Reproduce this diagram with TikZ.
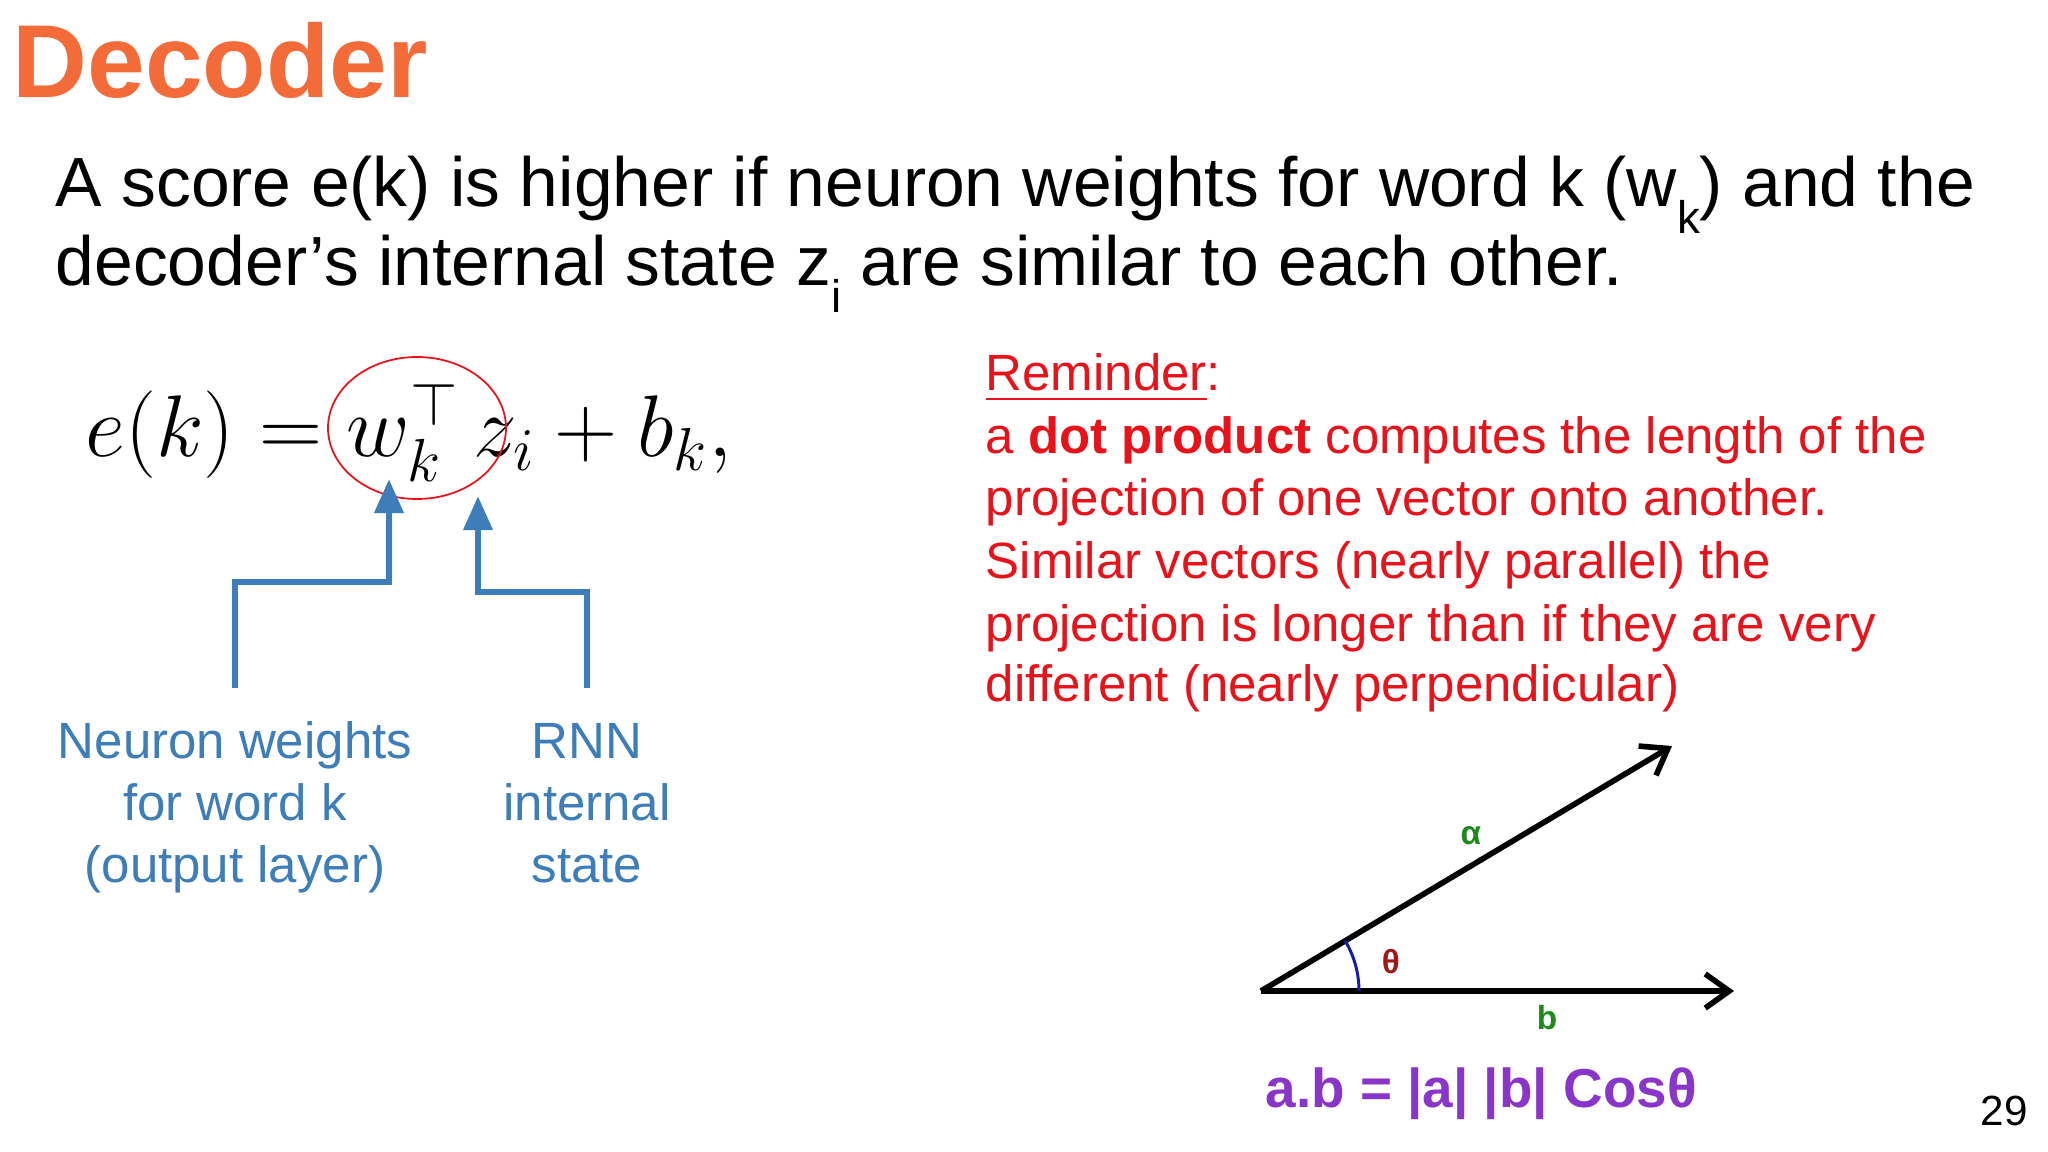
\documentclass[tikz,border=0pt]{standalone}
\usepackage{fontspec}
\usepackage{amsmath}
\setmainfont{Liberation Sans}
\usetikzlibrary{arrows.meta}
\definecolor{ttl}{HTML}{F26B38}
\definecolor{bl}{HTML}{3D7DB9}
\definecolor{rd}{HTML}{E8131A}
\definecolor{pu}{HTML}{8A35C9}
\definecolor{gr}{HTML}{1E8A1E}
\definecolor{dr}{HTML}{A01818}
\newcommand{\sbl}[1]{\raisebox{-0.38em}{\fontsize{13}{13}\selectfont #1}}
\begin{document}
\begin{tikzpicture}[x=0.01cm,y=-0.01cm,
  body/.style={inner sep=0,anchor=base west,font=\fontsize{19.8}{29}\selectfont},
  lbl/.style={inner sep=0,text=bl,align=center,font=\fontsize{14.5}{17.6}\selectfont},
  rem/.style={inner sep=0,anchor=base west,text=rd,font=\fontsize{14.5}{17.6}\selectfont},
  bluearr/.style={draw=bl,line width=1.9pt,-{Triangle[width=8pt,length=9.7pt]}},
  vec/.style={draw=black,line width=1.6pt,-{Straight Barb[width=9.7pt,length=6.8pt,line width=1.6pt]}},
  small/.style={inner sep=0,font=\bfseries\fontsize{9.5}{10}\selectfont}]
\useasboundingbox (0,0) rectangle (2048,1152);
\node[inner sep=0,anchor=base west,text=ttl,font=\bfseries\fontsize{29.5}{30}\selectfont] (title) at (12,98) {Decoder};
\node[body] (l1) at (55,207) {A score e(k) is higher if neuron weights for word k (w\sbl{k}) and the};
\node[body] (l2) at (55,286) {decoder’s internal state z\sbl{i} are similar to each other.};
\node[inner sep=0,anchor=base west,font=\fontsize{24}{24}\selectfont] (eq) at (85,457) {$e(k)=w_k^{\top}\,z_i+b_k,$};
\draw[rd,line width=0.5pt] (417,428) ellipse [x radius=89,y radius=71];
\coordinate (s1) at (235,688); \coordinate (t1) at (389,479);
\coordinate (s2) at (587,688); \coordinate (t2) at (478,496);
\draw[bluearr] (s1) -- (235,582) -- (389,582) -- (t1);
\draw[bluearr] (s2) -- (587,592) -- (478,592) -- (t2);
\node[lbl,anchor=base] (nw) at (235,882) {Neuron weights\\for word k\\(output layer)};
\node[lbl,anchor=base] (rnn) at (587,882) {RNN\\internal\\state};
\node[rem] (r0) at (985,391) {\underline{Reminder}:};
\node[rem] (r1) at (985,454) {a \textbf{dot product} computes the length of the};
\node[rem] (r2) at (985,516) {projection of one vector onto another.};
\node[rem] (r3) at (985,578) {Similar vectors (nearly parallel) the};
\node[rem] (r4) at (985,641) {projection is longer than if they are very};
\node[rem] (r5) at (985,702) {different (nearly perpendicular)};
\coordinate (o) at (1261,991);
\coordinate (ta) at (1672,746);
\coordinate (tb) at (1734,991);
\draw[vec] (o) -- (ta);
\draw[vec] (o) -- (tb);
\draw[draw={rgb,255:red,20;green,30;blue,170},line width=0.85pt] (1359,991) arc[start angle=0,end angle=-30.8,radius=98];
\node[small,text=dr] (th) at (1391,962) {θ};
\node[small,text=gr] (al) at (1471,836) {α};
\node[small,text=gr] (bb) at (1547,1018) {b};
\node[inner sep=0,anchor=base west,text=pu,font=\bfseries\fontsize{15.6}{17}\selectfont] (f) at (1265,1107) {a.b = |a| |b| Cosθ};
\node[inner sep=0,font=\fontsize{12}{12}\selectfont] (pg) at (2004,1111) {29};
\end{tikzpicture}
\end{document}
